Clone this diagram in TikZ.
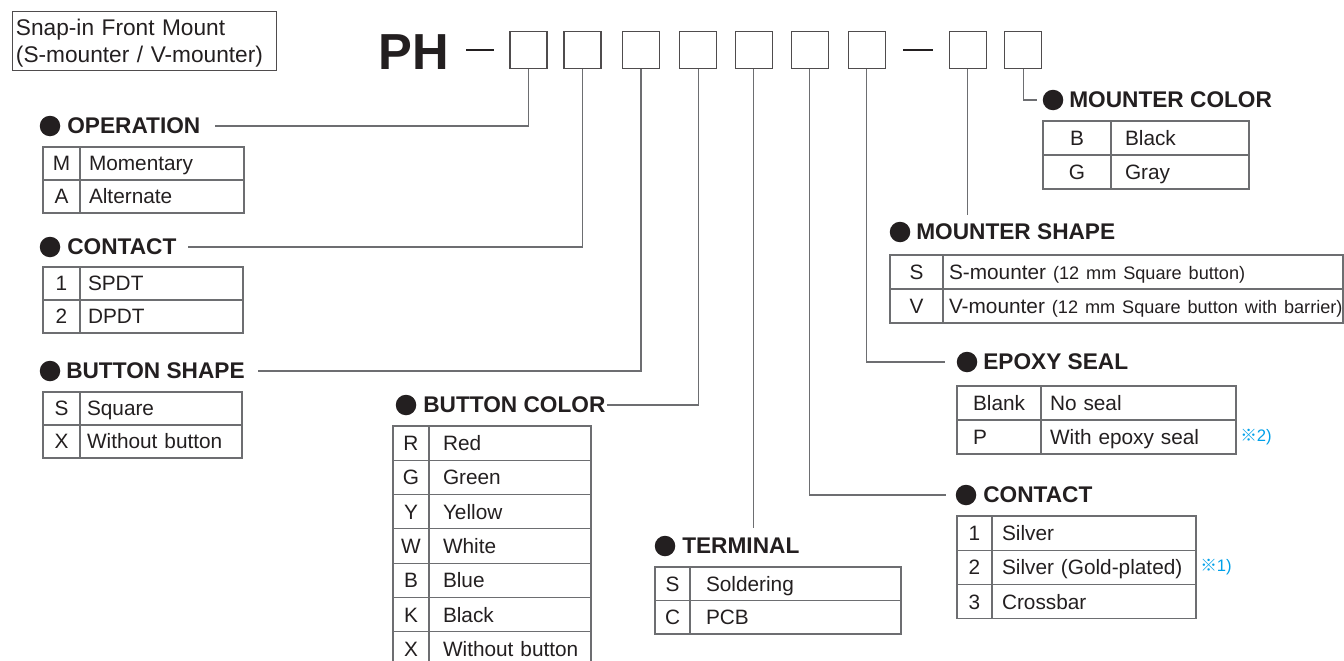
\documentclass[tikz,border=0pt]{standalone}
\usepackage{fontspec}
\setmainfont{Liberation Sans}
\newfontfamily\refmark{Noto Sans CJK JP}
\definecolor{textc}{HTML}{231F20}
\definecolor{linec}{HTML}{6D6E71}
\definecolor{notec}{HTML}{00A0E9}
\def\px{0.75pt}
\newcommand\tabfont{\fontsize{15.6}{18}\selectfont}
\newcommand\smallfont{\fontsize{13.6}{16}\selectfont}
\newcommand\codetable[9]{%
  \foreach \c/\d [count=\i from 0] in {#9} {%
    \node[cellc, minimum width={#4*\px}, minimum height={#6*\px}, text width={(#4-4)*\px}, #8]
      (#1c\i) at ({#2+#4/2}, {#3+(\i+0.5)*#6}) {\c};
    \node[celld, minimum width={#5*\px}, minimum height={#6*\px}, inner xsep={#7*\px}, text width={(#5-2*#7)*\px}]
      (#1d\i) at ({#2+#4+#5/2}, {#3+(\i+0.5)*#6}) {\mbox{\d}};
  }%
}
\tikzset{
  cellc/.style={draw=linec, line width=0.8pt, text=textc, font=\tabfont, align=center, inner xsep=2*\px, inner ysep=0pt, text height=11.2pt, text depth=0pt},
  celld/.style={draw=linec, line width=0.8pt, text=textc, font=\tabfont, align=left, inner ysep=0pt, text height=11.2pt, text depth=0pt},
  head/.style={anchor=west, inner xsep=0pt, inner ysep=0pt, text=textc, font=\fontsize{17}{20}\selectfont\bfseries},
  bul/.style={circle, fill=textc, inner sep=0pt, minimum size=20.5*\px},
  digit/.style={draw=textc!80, line width=0.8pt, minimum size=37*\px, inner sep=0pt},
  conn/.style={draw=linec, line width=0.8pt},
  note/.style={text=notec, font=\fontsize{12.5}{14}\selectfont, inner sep=0pt, anchor=west}
}
\begin{document}
\begin{tikzpicture}[x=0.75pt, y=-0.75pt]
\useasboundingbox (0,0) rectangle (1344,660);
\clip (0,0) rectangle (1344,660);

% title box
\node[draw=textc!80, line width=0.8pt, anchor=north west, minimum width=264*\px, minimum height=59*\px, inner sep=0pt] (tbox) at (12,11) {};
\node[text width=256*\px, inner sep=0pt, align=left, text=textc, font=\fontsize{17}{20.3}\selectfont] (title) at (144,43) {Snap-in Front Mount\\(S-mounter / V-mounter)};

% part number
\node[text=textc, font=\fontsize{38}{40}\selectfont\bfseries, inner sep=0pt] (ph) at (414,52) {PH};
\node[fill=textc, inner sep=0pt, minimum width=28*\px, minimum height=2.6*\px] (dash1) at (480,50) {};
\node[fill=textc, inner sep=0pt, minimum width=30*\px, minimum height=2.6*\px] (dash2) at (918,50) {};
\node[digit] (b1) at (528.5,50) {};
\node[digit] (b2) at (582.5,50) {};
\node[digit] (b3) at (641,50) {};
\node[digit] (b4) at (698.4,50) {};
\node[digit] (b5) at (753.9,50) {};
\node[digit] (b6) at (809.7,50) {};
\node[digit] (b7) at (866.8,50) {};
\node[digit] (b8) at (967.8,50) {};
\node[digit] (b9) at (1023.3,50) {};

% headings
\node[bul] (opb) at (50,126) {};   \node[head] (oph) at (67,126) {OPERATION};
\node[bul] (clb) at (50,247) {};   \node[head] (clh) at (67,247) {CONTACT};
\node[bul] (bsb) at (50,371) {};   \node[head] (bsh) at (66,371) {BUTTON SHAPE};
\node[bul] (bcb) at (406,405) {};  \node[head] (bch) at (423,405) {BUTTON COLOR};
\node[bul] (tmb) at (665,546) {};  \node[head] (tmh) at (682,546) {TERMINAL};
\node[bul] (mcb) at (1053,100) {}; \node[head] (mch) at (1069,100) {MOUNTER COLOR};
\node[bul] (msb) at (900,232) {};  \node[head] (msh) at (916,232) {MOUNTER SHAPE};
\node[bul] (epb) at (967,362) {};  \node[head] (eph) at (983,362) {EPOXY SEAL};
\node[bul] (crb) at (966,495) {};  \node[head] (crh) at (983,495) {CONTACT};

% connectors
\coordinate (t5) at (753.9,528);
\coordinate (t8) at (967.8,215);
\draw[conn, shorten >=14*\px] (b1.south) |- (oph.east);
\draw[conn, shorten >=11*\px] (b2.south) |- (clh.east);
\draw[conn, shorten >=13*\px] (b3.south) |- (bsh.east);
\draw[conn, shorten >=1*\px] (b4.south) |- (bch.east);
\draw[conn] (b5.south) -- (t5);
\draw[conn, shorten >=9*\px] (b6.south) |- (crb.west);
\draw[conn, shorten >=11*\px] (b7.south) |- (epb.west);
\draw[conn] (b8.south) -- (t8);
\draw[conn, shorten >=6*\px] (b9.south) |- (mcb.west);

% tables
\codetable{op}{43}{147}{37}{164}{33}{9}{}{M/Momentary, A/Alternate}
\codetable{cl}{43}{267}{37}{163}{33}{8}{}{1/SPDT, 2/DPDT}
\codetable{bs}{43}{392}{37}{162}{33}{7}{}{S/Square, X/Without button}
\codetable{bc}{393}{426}{36}{162}{34.3}{14}{}{R/Red, G/Green, Y/Yellow, W/White, B/Blue, K/Black, X/Without button}
\codetable{tm}{655}{567}{35}{211}{33.5}{16}{}{S/Soldering, C/PCB}
\codetable{mc}{1043}{121}{68}{138}{34}{14}{}{B/Black, G/Gray}
\codetable{ms}{890}{255}{53}{400}{34}{6}{}{S/S-mounter {\smallfont(12 mm Square button)}, V/V-mounter {\smallfont(12 mm Square button with barrier)}}
\codetable{ep}{957}{386}{84}{195}{34}{9}{align=left, inner xsep=16*\px, text width=52*\px}{Blank/No seal, P/With epoxy seal}
\codetable{cr}{957}{516}{35}{204}{34.3}{10}{}{1/Silver, 2/Silver (Gold-plated), 3/Crossbar}

% notes
\node[note] (n2) at (1240,437) {{\refmark ※}2)};
\node[note] (n1) at (1200,567) {{\refmark ※}1)};
\end{tikzpicture}
\end{document}
